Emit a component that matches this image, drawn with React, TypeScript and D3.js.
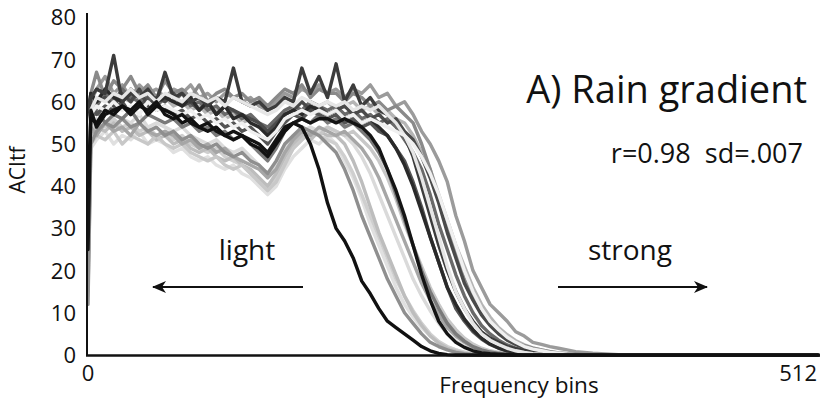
import React from "react";
import * as d3 from "d3";

// ---- data ----
// sampling grid of frequency bins shared by every series
const BINS: number[] = [0, 2, ...d3.range(6, 385, 6), 512];

const Y_TICKS = [0, 10, 20, 30, 40, 50, 60, 70, 80];
const X_TICK_LABELS = [
  { bin: 0, label: "0" },
  { bin: 512, label: "512" },
];

const S_T = [14,49,51,53,50,52,51,53,50,51,
  50,48,49,47,46,47,45,44,45,43,
  42,40,38,40,44,47,49,51,50,52,
  50,46,42,37,31,26,21,16,12,9,
  6.5,4.5,3,1.9,1.2,0.7,0.4,0.2,0.1,0,
  0,0,0,0,0,0,0,0,0,0,
  0,0,0,0,0,0,0];
const S_M = [48,53,55,54,56,54,55,53,54,52,
  53,51,52,50,49,48,49,47,46,45,
  43,41,39,42,46,49,51,53,52,51,
  50,47,43,38,33,28,23,18,14,10.5,
  7.5,5,3.2,2,1.2,0.6,0.3,0.1,0,0,
  0,0,0,0,0,0,0,0,0,0,
  0,0,0,0,0,0,0];
const S_L = [20,52,54,53,55,53,54,52,53,51,
  52,50,51,49,48,49,47,46,47,45,
  44,42,40,43,47,50,52,51,53,52,
  52,50,46,41,35,29,24,19,14,10,
  7,4.5,2.8,1.6,0.9,0.4,0.2,0.1,0,0,
  0,0,0,0,0,0,0,0,0,0,
  0,0,0,0,0,0,0];
const S_N = [45,54,56,55,54,56,55,57,54,55,
  54,53,54,52,51,50,51,49,48,49,
  47,45,42,45,49,52,53,54,53,54,
  53,52,50,47,43,38,33,28,23,18,
  14,10.5,7.5,5,3.3,2,1.2,0.7,0.4,0.2,
  0.1,0,0,0,0,0,0,0,0,0,
  0,0,0,0,0,0,0];
const S_P = [15,50,52,51,53,50,52,51,50,52,
  50,49,50,48,47,46,47,45,44,45,
  43,41,39,41,45,49,51,53,52,54,
  53,52,53,51,49,46,42,37,31,26,
  21,16,12,8.5,6,4,2.6,1.6,1,0.6,
  0.3,0.1,0,0,0,0,0,0,0,0,
  0,0,0,0,0,0,0];
const S_O = [18,54,52,55,53,54,52,55,53,52,
  53,52,50,51,49,50,48,49,47,46,
  45,44,42,44,48,51,53,52,54,53,
  52,53,51,49,46,42,37,32,27,22,
  17,13,9.5,6.5,4.5,3,1.8,1.1,0.6,0.3,
  0.1,0,0,0,0,0,0,0,0,0,
  0,0,0,0,0,0,0];
const S_G = [12,50,53,55,54,56,54,55,53,54,
  52,53,51,52,50,49,50,48,47,48,
  46,45,43,46,50,52,54,53,52,50,
  48,44,39,33,28,23,18,14,10,7.5,
  5,3,2,1.2,0.6,0.3,0.1,0,0,0,
  0,0,0,0,0,0,0,0,0,0,
  0,0,0,0,0,0,0];
const S_R = [50,58,60,62,59,61,60,62,60,59,
  61,59,60,58,59,57,58,56,57,55,
  56,54,53,55,57,59,58,60,59,60,
  58,59,60,58,59,57,58,56,55,52,
  48,44,38,32,26,21,16,12,9,6.5,
  4.8,3.4,2.4,1.7,1.2,0.8,0.5,0.3,0.2,0.1,
  0,0,0,0,0,0,0];
const S_A = [52,60,63,66,62,64,61,64,62,63,
  61,63,62,64,61,62,60,62,61,60,
  61,59,58,60,62,61,63,62,64,62,
  63,61,63,62,64,61,62,59,60,57,
  53,50,46,41,33,27,20,16,12,10,
  8,5.5,4.5,3,2.5,2,1.6,1.2,0.8,0.6,
  0.4,0.3,0.2,0.1,0,0,0];
const S_B = [55,62,67,61,65,63,66,62,64,61,
  65,62,63,61,64,60,62,63,61,62,
  60,61,59,61,63,62,64,61,63,62,
  62,60,62,61,59,60,58,59,57,55,
  50,44,37,30,24,18,14,10,7.5,5.5,
  4,3,2.2,1.6,1.2,0.8,0.5,0.3,0.2,0.1,
  0,0,0,0,0,0,0];
const S_J = [48,56,58,55,57,56,58,55,57,56,
  55,56,54,55,53,54,52,53,51,52,
  50,48,46,49,53,55,56,55,57,55,
  56,54,55,53,51,48,44,38,32,26,
  20,15,11,7.5,5,3.3,2,1.2,0.7,0.4,
  0.2,0.1,0,0,0,0,0,0,0,0,
  0,0,0,0,0,0,0];
const S_H = [55,60,57,59,58,60,57,59,61,58,
  59,57,58,56,57,55,56,54,55,53,
  54,52,50,53,55,57,56,58,57,56,
  57,55,56,54,55,53,52,49,46,41,
  35,28,22,16,11,8,5.5,3.8,2.5,1.6,
  1,0.6,0.3,0.2,0.1,0,0,0,0,0,
  0,0,0,0,0,0,0];
const S_I = [54,61,59,62,60,63,61,60,62,59,
  61,60,62,59,60,58,59,57,58,56,
  57,55,54,56,58,59,58,60,59,58,
  59,57,58,56,57,55,56,54,51,48,
  44,38,31,25,19,14,10,7,5,3.5,
  2.4,1.6,1,0.6,0.3,0.2,0.1,0,0,0,
  0,0,0,0,0,0,0];
const S_K = [57,62,60,61,59,62,60,63,59,61,
  60,62,59,60,58,60,57,59,58,57,
  56,55,53,55,57,58,60,58,59,57,
  58,59,57,58,56,57,55,56,53,51,
  47,42,36,29,23,17,13,9.5,7,5,
  3.5,2.5,1.7,1.1,0.7,0.4,0.2,0.1,0,0,
  0,0,0,0,0,0,0];
const S_S = [56,62,60,63,61,60,63,61,62,60,
  61,60,59,61,58,60,57,59,56,57,
  55,54,52,54,57,58,57,59,58,57,
  58,56,57,55,56,54,52,49,45,40,
  34,28,22,16,12,8.5,6,4,2.6,1.7,
  1,0.6,0.3,0.1,0,0,0,0,0,0,
  0,0,0,0,0,0,0];
const S_C = [58,61,63,62,71,60,62,61,63,60,
  67,61,62,60,61,59,61,60,68,60,
  59,60,58,59,61,60,68,62,66,61,
  69,60,64,59,61,58,57,55,52,47,
  40,33,26,20,15,11,8,5.5,4,3,
  2,1.5,1,0.7,0.5,0.3,0.2,0.1,0,0,
  0,0,0,0,0,0,0];
const S_F = [50,58,61,60,62,61,63,61,62,60,
  62,61,60,62,61,60,61,59,61,60,
  59,58,57,58,60,59,61,60,59,60,
  59,60,58,59,58,59,57,55,52,48,
  42,35,28,21,15,11,7.5,5,3.5,2.5,
  1.6,1,0.6,0.3,0.2,0.1,0,0,0,0,
  0,0,0,0,0,0,0];
const S_Q = [52,57,59,58,60,58,59,57,60,58,
  59,58,57,58,56,57,55,56,54,55,
  53,52,51,53,56,57,58,57,58,57,
  58,56,57,55,56,55,54,53,52,50,
  47,43,38,32,26,20,15,11,8,6,
  4.2,3,2,1.4,1,0.6,0.4,0.2,0.1,0,
  0,0,0,0,0,0,0];
const S_D = [25,58,54,57,58,59,57,59,58,60,
  57,56,57,55,54,55,53,52,53,52,
  51,50,48,51,54,55,56,55,56,56,
  55,56,55,54,52,49,44,39,33,26,
  19,13,8,5,3,1.8,1,0.5,0.3,0.2,
  0.1,0,0,0,0,0,0,0,0,0,
  0,0,0,0,0,0,0];
const S_E = [40,56,55,58,57,59,58,60,57,59,
  58,57,55,56,54,53,54,52,51,52,
  50,49,47,50,53,55,54,50,44,36,
  30,27,23,17.5,14.5,11,8,6.5,5,3.5,
  2,1,0.4,0.1,0,0,0,0,0,0,
  0,0,0,0,0,0,0,0,0,0,
  0,0,0,0,0,0,0];

// drawing order (back to front) and greys
const SERIES_VALUES = [S_T, S_M, S_L, S_N, S_P, S_O, S_G, S_R, S_A, S_B, S_J, S_H, S_I, S_K, S_S, S_C, S_F, S_Q, S_D, S_E];
const SERIES_GREYS = ["#e0e0e0", "#cfcfcf", "#bdbdbd", "#dadada", "#c8c8c8", "#a6a6a6", "#8f8f8f", "#b5b5b5", "#9b9b9b", "#8a8a8a", "#7a7a7a", "#555555", "#6a6a6a", "#4a4a4a", "#2a2a2a", "#3c3c3c", "#e6e6e6", "#f0f0f0", "#141414", "#111111"];

const W = 824;
const H = 404;
const FONT = "'Open Sans', 'Noto Sans', sans-serif";

export default function App() {
  const x = d3.scaleLinear().domain([0, 512]).range([88, 818]);
  const y = d3.scaleLinear().domain([0, 80]).range([355, 17.4]);
  const line = d3
    .line<number>()
    .x((_, i) => x(BINS[i]))
    .y((v) => y(v))
    .curve(d3.curveLinear);

  return (
    <svg
      width={W}
      height={H}
      viewBox={`0 0 ${W} ${H}`}
      style={{ position: "fixed", left: 0, top: 0, background: "#fff" }}
    >
      <defs>
        <marker id="ah" viewBox="0 0 14 12" refX="13" refY="6" markerWidth="14" markerHeight="12" markerUnits="userSpaceOnUse" orient="auto">
          <path d="M0,0 L14,6 L0,12 L4,6 Z" fill="#111" />
        </marker>
      </defs>
      <rect x={0} y={0} width={W} height={H} fill="#fff" />

      {SERIES_VALUES.map((vals, k) => (
        <path
          key={k}
          d={line(vals) || ""}
          fill="none"
          stroke={SERIES_GREYS[k]}
          strokeWidth={3.4}
          strokeLinejoin="round"
          strokeLinecap="round"
        />
      ))}

      {/* axes */}
      <line x1={87} x2={87} y1={13} y2={356} stroke="#111" strokeWidth={2} />
      <line x1={86} x2={820} y1={355.5} y2={355.5} stroke="#111" strokeWidth={2.6} />

      {Y_TICKS.map((t) => (
        <text key={t} x={76} y={y(t) - 1} textAnchor="end" dominantBaseline="central" fontFamily={FONT} fontSize={22} fill="#111">
          {t}
        </text>
      ))}
      {X_TICK_LABELS.map((t, i) => (
        <text key={t.label} x={x(t.bin) + (i === 0 ? 0 : -1)} y={372} textAnchor={i === 0 ? "middle" : "end"} dominantBaseline="central" fontFamily={FONT} fontSize={22} fill="#111">
          {t.label}
        </text>
      ))}
      <text x={519} y={393} textAnchor="middle" fontFamily={FONT} fontSize={22.5} fill="#111">
        Frequency bins
      </text>
      <text transform="translate(25,170) rotate(-90)" textAnchor="middle" fontFamily={FONT} fontSize={21} fill="#111">
        ACItf
      </text>

      {/* annotations */}
      <text x={807} y={103} textAnchor="end" fontFamily={FONT} fontSize={38} fill="#111">
        A) Rain gradient
      </text>
      <text x={803} y={163} textAnchor="end" fontFamily={FONT} fontSize={27} fill="#111" xmlSpace="preserve" style={{ whiteSpace: "pre" }}>
        {"r=0.98  sd=.007"}
      </text>
      <text x={247} y={260} textAnchor="middle" fontFamily={FONT} fontSize={28} fill="#111">
        light
      </text>
      <text x={630} y={260} textAnchor="middle" fontFamily={FONT} fontSize={28} fill="#111">
        strong
      </text>
      <line x1={303} y1={287} x2={153} y2={287} stroke="#111" strokeWidth={2} markerEnd="url(#ah)" />
      <line x1={558} y1={287} x2={707} y2={287} stroke="#111" strokeWidth={2} markerEnd="url(#ah)" />
    </svg>
  );
}
